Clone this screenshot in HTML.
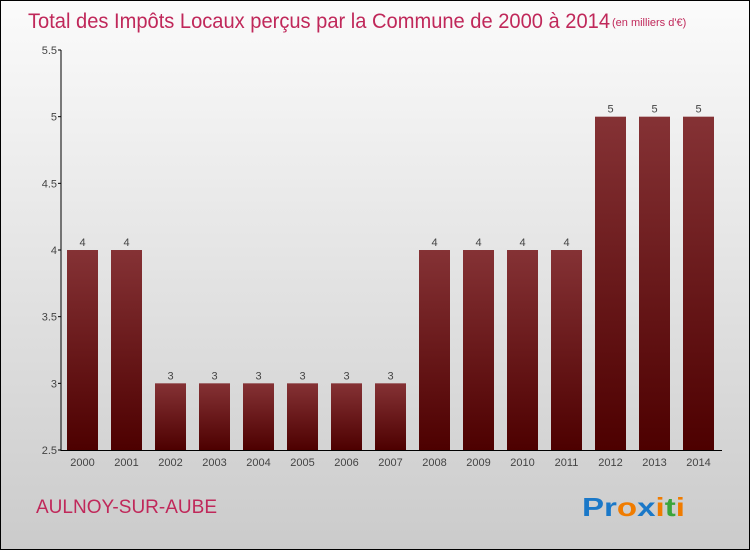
<!DOCTYPE html>
<html><head><meta charset="utf-8"><style>
html,body{margin:0;padding:0;width:750px;height:550px;overflow:hidden}
svg{display:block;font-family:"Liberation Sans",sans-serif}
</style></head><body>
<svg width="750" height="550">
<defs>
<linearGradient id="bg" x1="0" y1="0" x2="0" y2="1"><stop offset="0" stop-color="#fbfbfb"/><stop offset="1" stop-color="#cbcbcb"/></linearGradient>
<linearGradient id="bar" x1="0" y1="0" x2="0" y2="1"><stop offset="0" stop-color="#853235"/><stop offset="1" stop-color="#4d0000"/></linearGradient>
</defs>
<rect x="0.5" y="0.5" width="749" height="549" fill="url(#bg)" stroke="#000"/>
<text x="28" y="28" font-size="21" fill="#c0285a" textLength="582" lengthAdjust="spacingAndGlyphs">Total des Impôts Locaux perçus par la Commune de 2000 à 2014</text>
<text x="612" y="26" font-size="11" fill="#c0285a">(en milliers d'€)</text>
<g id="plot"></g>
<text x="36" y="513" font-size="19" fill="#c0285a" textLength="181" lengthAdjust="spacingAndGlyphs">AULNOY-SUR-AUBE</text>
<text x="582" y="516" font-size="26" font-weight="bold" textLength="103" lengthAdjust="spacingAndGlyphs"><tspan fill="#1a78c8">Pr</tspan><tspan fill="#f07c00">o</tspan><tspan fill="#1a78c8">x</tspan><tspan fill="#f07c00">i</tspan><tspan fill="#3aa53a">t</tspan><tspan fill="#f07c00">i</tspan></text>
</svg>
<script>
const years=["2000","2001","2002","2003","2004","2005","2006","2007","2008","2009","2010","2011","2012","2013","2014"];
const values=[4,4,3,3,3,3,3,3,4,4,4,4,5,5,5];
const ticks=[2.5,3,3.5,4,4.5,5,5.5];
const NS="http://www.w3.org/2000/svg",g=document.getElementById('plot');
const y=v=>450-(v-2.5)*133.33, x=i=>67+i*44;
function mk(t,a,txt){const e=document.createElementNS(NS,t);for(const k in a)e.setAttribute(k,a[k]);if(txt!==undefined)e.textContent=txt;g.appendChild(e);return e;}
values.forEach((v,i)=>{
 const r=mk('rect',{x:x(i),y:y(v),width:31,height:450-y(v),fill:'url(#bar)'});
 
 
 const l=mk('text',{x:x(i)+15.5,y:y(v)-4,'font-size':11,fill:'#444','text-anchor':'middle'},String(v));
 
 
 const t=mk('text',{x:x(i)+15.5,y:466,'font-size':11,fill:'#444','text-anchor':'middle'},years[i]);
 
 
});
ticks.forEach(v=>{
 mk('line',{x1:58,x2:61,y1:y(v),y2:y(v),stroke:'#000'});
 const t=mk('text',{x:57,y:y(v)+4,'font-size':11,fill:'#444','text-anchor':'end'},String(v));
 
 
});
const ya=mk('line',{x1:61,x2:61,y1:y(5.5),y2:451,stroke:'#000','stroke-width':1});


const xa=mk('line',{x1:61,x2:722,y1:450.5,y2:450.5,stroke:'#000','stroke-width':1});


</script>
</body></html>
